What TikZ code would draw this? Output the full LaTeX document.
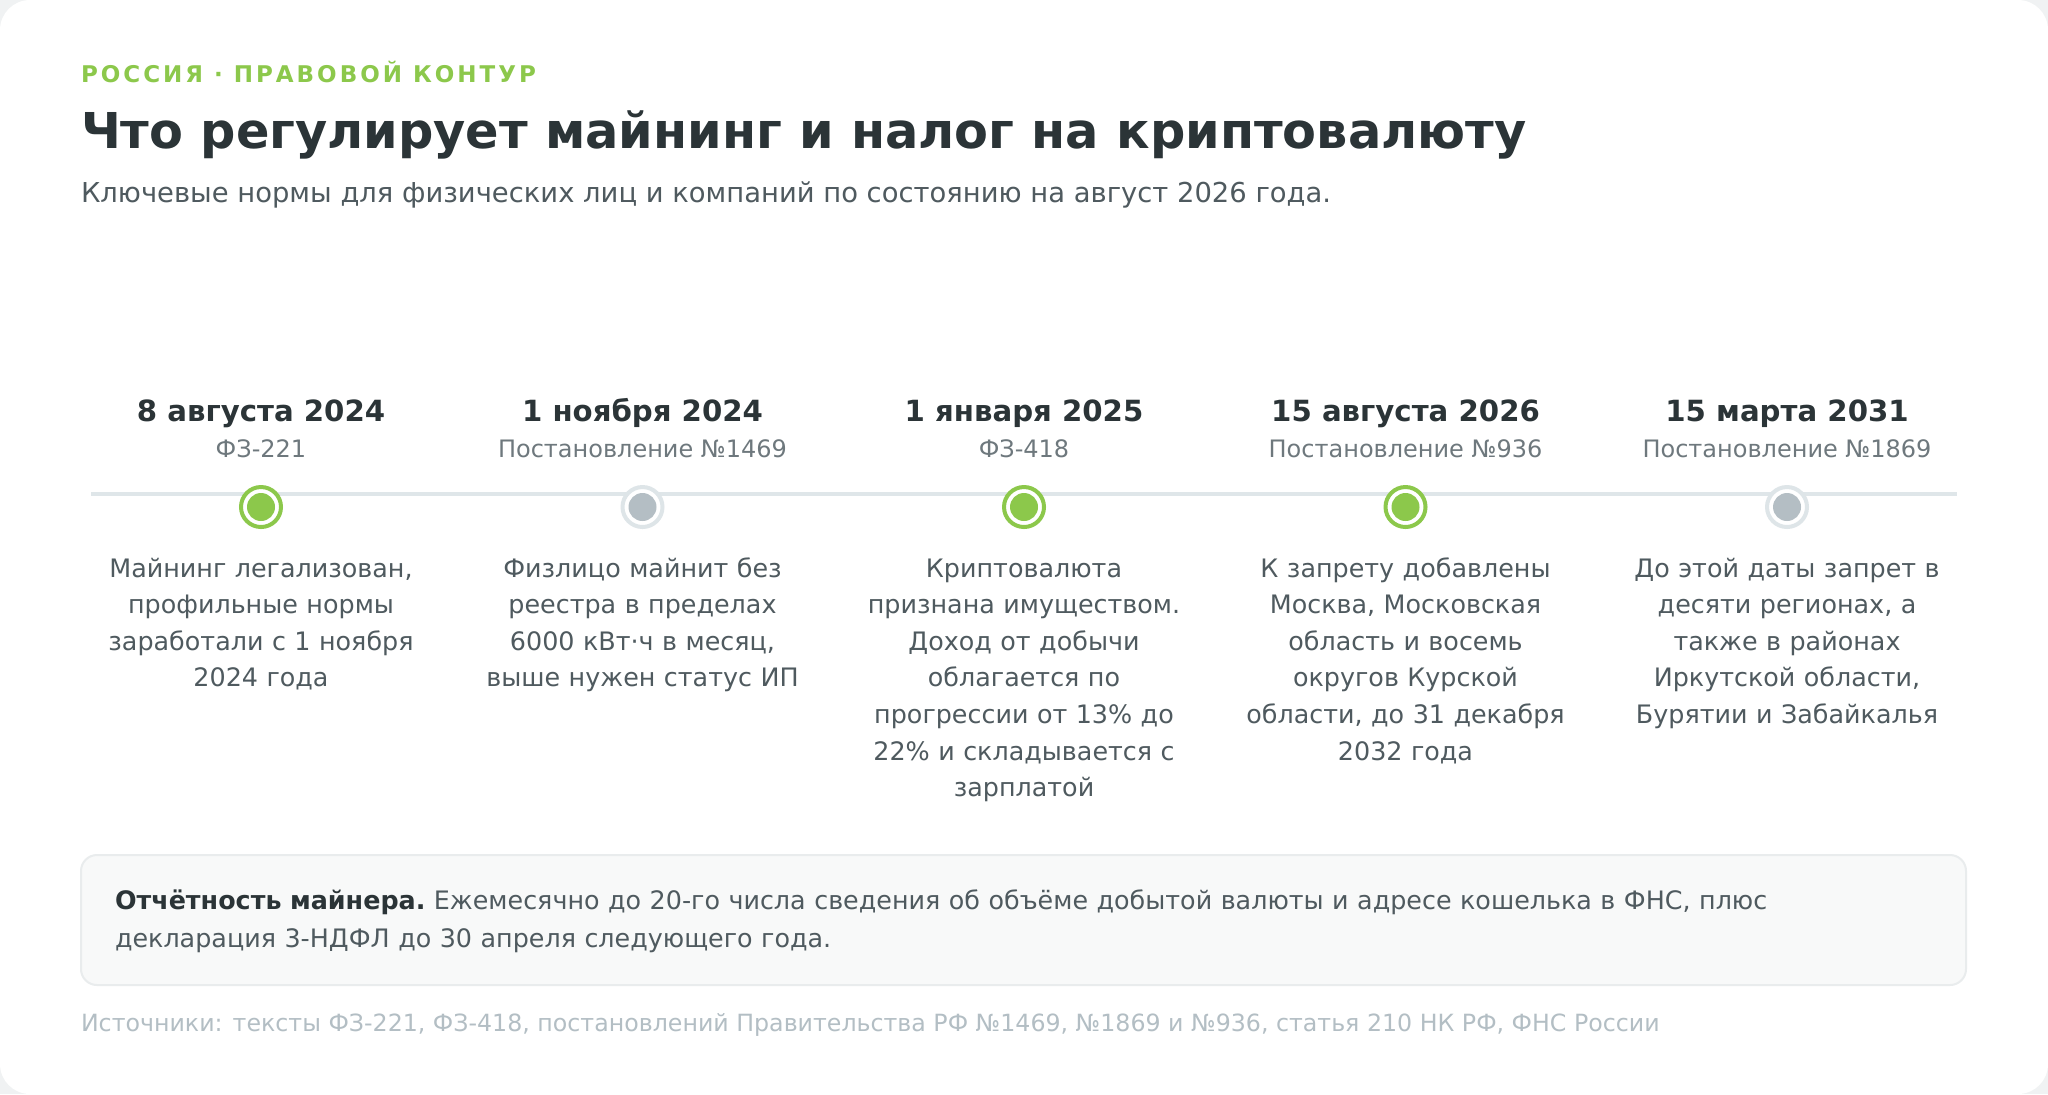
\documentclass[tikz,border=0pt]{standalone}
\usepackage{fontspec}
\setmainfont{DejaVu Sans}
\usetikzlibrary{positioning}

\definecolor{leaf}{HTML}{8CC84B}
\definecolor{ink}{HTML}{2B3437}
\definecolor{body}{HTML}{4F5A5F}
\definecolor{muted}{HTML}{6E787D}
\definecolor{faint}{HTML}{B3BEC4}
\definecolor{rail}{HTML}{DFE6E9}
\definecolor{dotgray}{HTML}{B4BEC4}
\definecolor{ringgray}{HTML}{DEE5E8}
\definecolor{notefill}{HTML}{F8F9F9}
\definecolor{noteline}{HTML}{E9ECED}
\definecolor{pagegray}{HTML}{F0F2F3}

\tikzset{
  txt/.style={inner sep=0pt, outer sep=0pt},
  datelabel/.style={txt, anchor=base, text=ink, font=\fontsize{14.6}{17}\selectfont\bfseries},
  reflabel/.style={txt, anchor=base, text=muted, font=\fontsize{12}{15}\selectfont},
  desclabel/.style={txt, anchor=base, text=body, text width=175pt, align=center,
    font=\fontsize{12.7}{18.3}\selectfont},
  ringon/.style={circle, draw=leaf, fill=white, line width=2pt, minimum size=20pt, inner sep=0pt},
  ringoff/.style={circle, draw=ringgray, fill=white, line width=2pt, minimum size=20pt, inner sep=0pt},
}

\begin{document}
\begin{tikzpicture}[x=0.5pt, y=-0.5pt]
  \useasboundingbox (0,0) rectangle (2048,1094);
  % page and card
  \fill[pagegray] (0,0) rectangle (2048,1094);
  \fill[white, rounded corners=15pt] (0,0) rectangle (2048,1094);

  % header
  \node[txt, anchor=base west, text=leaf,
    font=\fontsize{11.5}{14}\selectfont\bfseries\addfontfeature{LetterSpace=13}] (kicker) at (81,82)
    {РОССИЯ · ПРАВОВОЙ КОНТУР};
  \node[txt, anchor=base west, text=ink, font=\fontsize{24.7}{29}\selectfont\bfseries] (title) at (81,148)
    {Что регулирует майнинг и налог на криптовалюту};
  \node[txt, anchor=base west, text=body, font=\fontsize{13.7}{17}\selectfont] (lead) at (81,202)
    {Ключевые нормы для физических лиц и компаний по состоянию на август 2026 года.};

  % timeline rail
  \coordinate (railA) at (91,494);
  \coordinate (railB) at (1957,494);
  \draw[rail, line width=2pt] (railA) -- (railB);

  % milestones
  \node[ringon]  (m1) at (261,507) {};
  \node[ringoff] (m2) at (642.5,507) {};
  \node[ringon]  (m3) at (1024,507) {};
  \node[ringon]  (m4) at (1405.5,507) {};
  \node[ringoff] (m5) at (1787,507) {};
  \fill[leaf] (m1.center) circle (7pt);
  \fill[dotgray] (m2.center) circle (7pt);
  \fill[leaf] (m3.center) circle (7pt);
  \fill[leaf] (m4.center) circle (7pt);
  \fill[dotgray] (m5.center) circle (7pt);

  % dates
  \node[datelabel] (date1) at (261,421) {8 августа 2024};
  \node[datelabel] (date2) at (642.5,421) {1 ноября 2024};
  \node[datelabel] (date3) at (1024,421) {1 января 2025};
  \node[datelabel] (date4) at (1405.5,421) {15 августа 2026};
  \node[datelabel] (date5) at (1787,421) {15 марта 2031};

  % acts
  \node[reflabel] (ref1) at (261,457) {ФЗ-221};
  \node[reflabel] (ref2) at (642.5,457) {Постановление №1469};
  \node[reflabel] (ref3) at (1024,457) {ФЗ-418};
  \node[reflabel] (ref4) at (1405.5,457) {Постановление №936};
  \node[reflabel] (ref5) at (1787,457) {Постановление №1869};

  % what changed
  \node[desclabel] (desc1) at (261,577)
    {Майнинг легализован,\\профильные нормы\\заработали с 1 ноября\\2024 года};
  \node[desclabel] (desc2) at (642.5,577)
    {Физлицо майнит без\\реестра в пределах\\6000 кВт·ч в месяц,\\выше нужен статус ИП};
  \node[desclabel] (desc3) at (1024,577)
    {Криптовалюта\\признана имуществом.\\Доход от добычи\\облагается по\\прогрессии от 13\% до\\22\% и складывается с\\зарплатой};
  \node[desclabel] (desc4) at (1405.5,577)
    {К запрету добавлены\\Москва, Московская\\область и восемь\\округов Курской\\области, до 31 декабря\\2032 года};
  \node[desclabel] (desc5) at (1787,577)
    {До этой даты запрет в\\десяти регионах, а\\также в районах\\Иркутской области,\\Бурятии и Забайкалья};

  % reporting note
  \filldraw[fill=notefill, draw=noteline, line width=1pt, rounded corners=8pt] (81,855) rectangle (1966,985);
  \node[txt, anchor=base west, text=body, text width=900pt, align=left,
    font=\fontsize{12.7}{19}\selectfont] (note) at (115,909)
    {\textcolor{ink}{\bfseries Отчётность майнера.}~Ежемесячно до 20-го числа сведения об объёме добытой валюты и адресе кошелька в ФНС, плюс\\декларация 3-НДФЛ до 30 апреля следующего года.};

  % sources
  \node[txt, anchor=base west, text=faint, font=\fontsize{11.85}{15}\selectfont] (src) at (81,1031)
    {Источники: тексты ФЗ-221, ФЗ-418, постановлений Правительства РФ №1469, №1869 и №936, статья 210 НК РФ, ФНС России};
\end{tikzpicture}
\end{document}
